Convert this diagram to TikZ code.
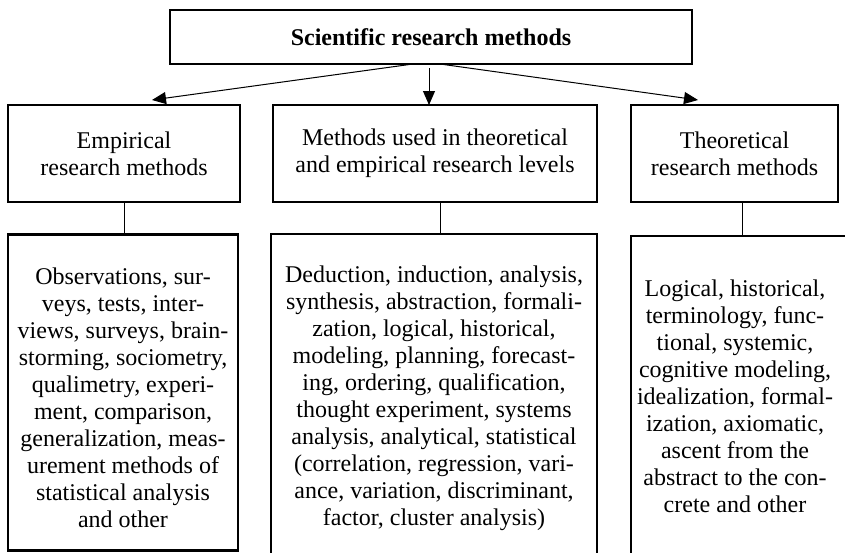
\documentclass[tikz,border=0pt]{standalone}
\usepackage{fontspec}
\setmainfont{Liberation Serif}
\usetikzlibrary{arrows.meta}
\begin{document}
\begin{tikzpicture}[x=1pt,y=-1pt,
  box/.style={draw,line width=2.5pt,inner sep=0pt,align=center,font=\fontsize{24}{27}\selectfont},
  txt/.style={align=center,font=\fontsize{24}{27}\selectfont},
  link/.style={line width=1pt},
  arr/.style={line width=1pt,-{Triangle[length=14pt,width=12pt]}}]
\useasboundingbox (0,0) rectangle (845,552);
\clip (0,0) rectangle (845,552);
\fill[white] (0,0) rectangle (845,552);
% top
\node[box,minimum width=522pt,minimum height=54pt,font=\fontsize{24}{27}\selectfont\bfseries] (top) at (431,37) {Scientific research methods};
% middle row
\node[box,minimum width=232pt,minimum height=97pt] (emp) at (124,153.5) {Empirical\\research methods};
\node[box,minimum width=324pt,minimum height=97pt] (both) at (435,153.5) {Methods used in theoretical\\and empirical research levels};
\node[box,minimum width=207pt,minimum height=97pt] (theo) at (734.5,153.5) {Theoretical\\research methods};
% bottom row
\node[box,minimum width=230pt,minimum height=316pt] (empl) at (123,392.5) {};
\node[txt] (empt) at (123,398) {Observations, sur-\\veys, tests, inter-\\views, surveys, brain-\\storming, sociometry,\\qualimetry, experi-\\ment, comparison,\\generalization, meas-\\urement methods of\\statistical analysis\\and other};
\node[box,minimum width=326pt,minimum height=340pt] (bothl) at (434,404) {};
\node[txt] (botht) at (434,398) {Deduction, induction, analysis,\\synthesis, abstraction, formali-\\zation, logical, historical,\\modeling, planning, forecast-\\ing, ordering, qualification,\\thought experiment, systems\\analysis, analytical, statistical\\(correlation, regression, vari-\\ance, variation, discriminant,\\factor, cluster analysis)};
\node[box,minimum width=220pt,minimum height=340pt] (theol) at (741,406) {};
\node[txt] (theot) at (735,396) {Logical, historical,\\terminology, func-\\tional, systemic,\\cognitive modeling,\\idealization, formal-\\ization, axiomatic,\\ascent from the\\abstract to the con-\\crete and other};
% connectors
\coordinate (tl) at (413,64);
\coordinate (tr) at (440,64);
\coordinate (tm) at (429,68);
\coordinate (el) at (152,100);
\coordinate (er) at (698,100);
\coordinate (em) at (429,105);
\draw[arr] (tl) -- (el);
\draw[arr] (tr) -- (er);
\draw[arr] (tm) -- (em);
\draw[link] (emp.south) -- (emp.south |- empl.north);
\draw[link] (440,202) coordinate (b1) -- (440,234) coordinate (b2);
\draw[link] (742,202) coordinate (c1) -- (742,236) coordinate (c2);
\end{tikzpicture}
\end{document}
